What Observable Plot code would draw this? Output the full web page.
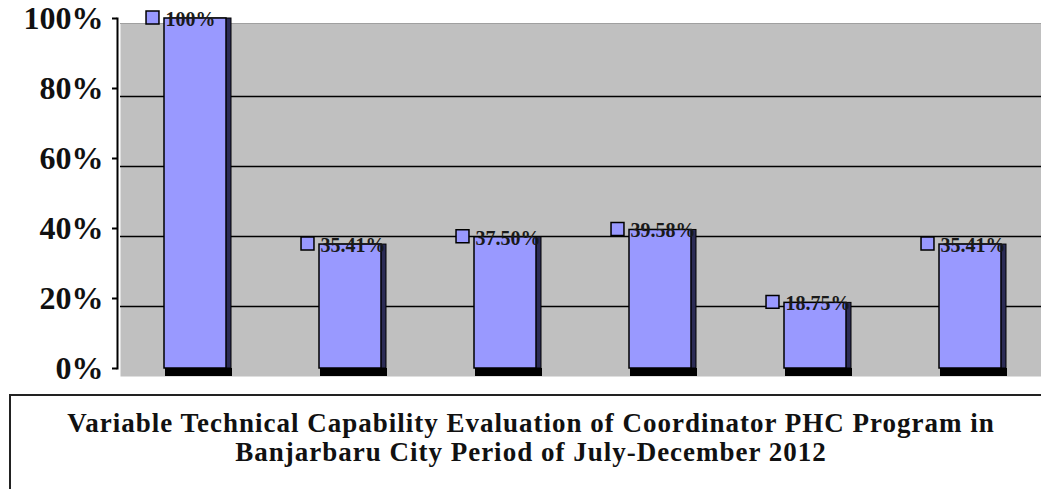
<!DOCTYPE html>
<html>
<head>
<meta charset="utf-8">
<script src="https://cdn.jsdelivr.net/npm/d3@7"></script>
<script src="https://cdn.jsdelivr.net/npm/@observablehq/plot@0.6"></script>
<style>
  html, body { margin: 0; padding: 0; background: #fff; width: 1041px; height: 489px; overflow: hidden; }
  #chart { position: absolute; left: 0; top: 0; }
  #titlebox { position: absolute; left: 9px; top: 394px; width: 1100px; height: 200px; border: 2px solid #222; box-sizing: border-box; }
  #title { position: absolute; left: 0; top: 409px; width: 1062px; text-align: center;
           font-family: "Liberation Serif", "Times New Roman", serif; font-weight: bold; font-size: 27px; line-height: 29px;
           letter-spacing: 1px; color: #111; }
</style>
</head>
<body>
<div id="chart"></div>
<div id="titlebox"></div>
<div id="title">Variable Technical Capability Evaluation of Coordinator PHC Program in<br>Banjarbaru City Period of July-December 2012</div>
<script>
const categories = ["1", "2", "3", "4", "5", "6"];
const values = [100, 35.41, 37.5, 39.58, 18.75, 35.41];
const valueLabels = ["100%", "35.41%", "37.50%", "39.58%", "18.75%", "35.41%"];
const yTicks = [0, 20, 40, 60, 80, 100];
const gridValues = [20, 40, 60, 80];

const data = categories.map((c, i) => ({cat: c, value: values[i], label: valueLabels[i]}));
const serif = "'Liberation Serif', 'Times New Roman', serif";

const chart = Plot.plot({
  width: 1041,
  height: 390,
  marginLeft: 117,
  marginRight: 0,
  marginTop: 18,
  marginBottom: 22,
  style: {background: "transparent", overflow: "visible"},
  x: {domain: categories, range: [117, 1047], paddingInner: 0.6, paddingOuter: 0.3, axis: null},
  y: {domain: [0, 100], ticks: yTicks, tickFormat: d => d + "%", label: null},
  marks: [
    Plot.frame({fill: "#c0c0c0", stroke: null, insetLeft: 3, insetTop: 5, insetBottom: -8}),
    Plot.frame({fill: "none", stroke: "#a0a0a0", anchor: "top", dy: 5, insetLeft: 3}),
    Plot.ruleY(gridValues, {stroke: "#000", strokeWidth: 1.5, dy: 8, insetLeft: 3}),
    // 3D right side of bars
    Plot.barY(data, {x: "cat", y: "value", fill: "#2b2b55", stroke: "#000", strokeWidth: 1, dx: 5}),
    // 3D floor of bars
    Plot.barY(data, {x: "cat", y1: d => 0, y2: d => 0, insetBottom: -8, insetLeft: 1, insetRight: -6, fill: "#000"}),
    // front face
    Plot.barY(data, {x: "cat", y: "value", fill: "#9999ff", stroke: "#000", strokeWidth: 1.5}),
    Plot.axisY({ticks: yTicks, tickFormat: d => d + "%", tickSize: 5, tickPadding: 9, stroke: "#000", strokeWidth: 2,
      fontSize: 32, fontWeight: "bold", fontFamily: serif, fill: "#111", label: null}),
    Plot.frame({anchor: "left", stroke: "#000", strokeWidth: 2}),
    Plot.dot(data, {x: "cat", y: "value", symbol: "square", r: 7.3, fill: "#9999ff", stroke: "#000", strokeWidth: 1.5, dx: -43, dy: -1}),
    Plot.text(data, {x: "cat", y: "value", text: "label", textAnchor: "start", dx: -30, dy: 1,
      fontSize: 20, fontWeight: "bold", fontFamily: serif, fill: "#1a1a1a",
      letterSpacing: "3px"})
  ]
});
document.getElementById("chart").appendChild(chart);
</script>
</body>
</html>
